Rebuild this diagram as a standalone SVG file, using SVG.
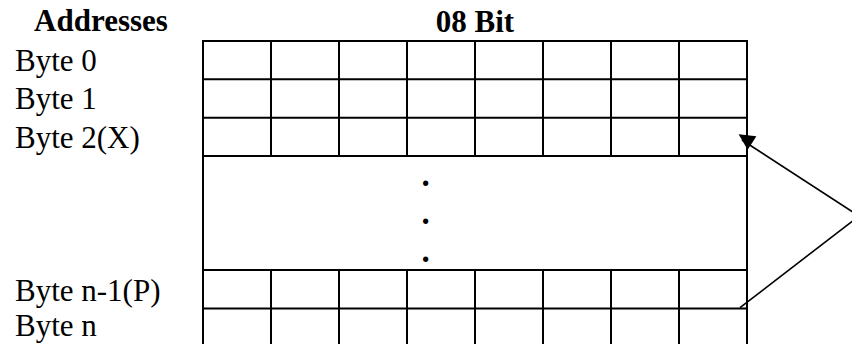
<svg xmlns="http://www.w3.org/2000/svg" width="852" height="344" viewBox="0 0 852 344">
  <style>
    .lbl { font-family: "Liberation Serif", "Times New Roman", serif; font-size: 31px; fill: #000; }
    .hdr { font-family: "Liberation Serif", "Times New Roman", serif; font-size: 31px; font-weight: bold; fill: #000; }
    .dot { font-family: "Liberation Serif", "Times New Roman", serif; font-size: 33px; font-weight: bold; fill: #000; text-anchor: middle; }
    .grid line { stroke: #000; stroke-width: 2; fill: none; }
    .conn { stroke: #000; stroke-width: 1.6; fill: none; }
  </style>
  <defs>
    <marker id="ah" viewBox="0 0 10 10" refX="10" refY="5" markerWidth="10" markerHeight="10" markerUnits="userSpaceOnUse" orient="auto" overflow="visible">
      <path d="M0,0 L10,5 L0,10 z" transform="scale(1.6)" fill="#000"/>
    </marker>
  </defs>
  <rect width="852" height="344" fill="#fff"/>

  <g id="headers">
    <text class="hdr" x="101" y="31" text-anchor="middle">Addresses</text>
    <text class="hdr" x="475" y="32" text-anchor="middle">08 Bit</text>
  </g>

  <g id="labels">
    <text class="lbl" x="15" y="71">Byte 0</text>
    <text class="lbl" x="15" y="109">Byte 1</text>
    <text class="lbl" x="15" y="148">Byte 2(X)</text>
    <text class="lbl" x="15" y="301">Byte n-1(P)</text>
    <text class="lbl" x="15" y="336">Byte n</text>
  </g>

  <g id="memory" class="grid">
    <line x1="203" y1="40" x2="203" y2="350"/>
    <line x1="747" y1="40" x2="747" y2="350"/>
    <line x1="202" y1="41" x2="748" y2="41"/>
    <line x1="203" y1="79.3" x2="747" y2="79.3"/>
    <line x1="203" y1="117.7" x2="747" y2="117.7"/>
    <line x1="203" y1="156" x2="747" y2="156"/>
    <line x1="203" y1="270" x2="747" y2="270"/>
    <line x1="203" y1="308.5" x2="747" y2="308.5"/>
    <line x1="271" y1="41" x2="271" y2="156"/>
    <line x1="339" y1="41" x2="339" y2="156"/>
    <line x1="407" y1="41" x2="407" y2="156"/>
    <line x1="475" y1="41" x2="475" y2="156"/>
    <line x1="543" y1="41" x2="543" y2="156"/>
    <line x1="611" y1="41" x2="611" y2="156"/>
    <line x1="679" y1="41" x2="679" y2="156"/>
    <line x1="271" y1="270" x2="271" y2="350"/>
    <line x1="339" y1="270" x2="339" y2="350"/>
    <line x1="407" y1="270" x2="407" y2="350"/>
    <line x1="475" y1="270" x2="475" y2="350"/>
    <line x1="543" y1="270" x2="543" y2="350"/>
    <line x1="611" y1="270" x2="611" y2="350"/>
    <line x1="679" y1="270" x2="679" y2="350"/>
  </g>

  <g id="ellipsis">
    <text class="dot" x="425.5" y="186">.</text>
    <text class="dot" x="425.5" y="224">.</text>
    <text class="dot" x="425.5" y="262">.</text>
  </g>

  <g id="connectors">
    <line class="conn" x1="859" y1="216" x2="742" y2="140" marker-end="url(#ah)"/>
    <line class="conn" x1="740" y1="307.7" x2="859" y2="216"/>
  </g>
</svg>
